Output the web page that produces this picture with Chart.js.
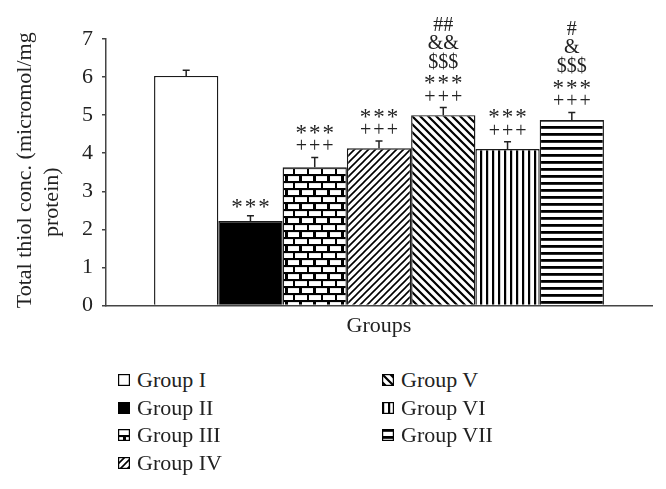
<!DOCTYPE html>
<html>
<head>
<meta charset="utf-8">
<script src="https://cdn.jsdelivr.net/npm/chart.js@4.4.0/dist/chart.umd.min.js"></script>
<style>
  html,body{margin:0;padding:0;background:#fff;}
  #wrap{position:relative;width:666px;height:489px;overflow:hidden;}
  #chart{position:absolute;left:0;top:0;}
  .leg{position:absolute;display:flex;align-items:center;height:24px;font:22px "Liberation Serif",serif;color:#222;white-space:nowrap;}
  .leg canvas{margin-right:7px;display:block;}
</style>
</head>
<body>
<div id="wrap">
  <canvas id="chart" width="666" height="340"></canvas>
  <div id="legend"></div>
</div>
<script>
const FONT = '"Liberation Serif", "DejaVu Serif", serif';

const groups = ['Group I','Group II','Group III','Group IV','Group V','Group VI','Group VII'];
const means  = [6.03, 2.22, 3.63, 4.13, 5.00, 4.11, 4.87];
const errs   = [0.15, 0.14, 0.26, 0.19, 0.20, 0.19, 0.20];
const fillKinds = ['white','black','brick','fwd','back','vert','horiz'];
// significance marks, listed bottom to top
const marks = [
  [],
  ['***'],
  ['+++','***'],
  ['+++','***'],
  ['+++','***','$$$','&&','##'],
  ['+++','***'],
  ['+++','***','$$$','&','#']
];
const yTitleLines = ['Total thiol conc. (micromol/mg', 'protein)'];
const xTitle = 'Groups';

function makeFill(kind){
  if (kind==='white') return '#fff';
  if (kind==='black') return '#000';
  const c = document.createElement('canvas');
  const g = c.getContext('2d');
  if (kind==='brick'){
    c.width=14; c.height=14;
    g.fillStyle='#000'; g.fillRect(0,0,14,14);
    g.fillStyle='#fff';
    g.fillRect(1,1.1,12,4.9);
    g.fillRect(0,8.1,5,4.9);
    g.fillRect(8,8.1,6,4.9);
  } else if (kind==='fwd'){
    c.width=7; c.height=7;
    g.fillStyle='#fff'; g.fillRect(0,0,7,7);
    g.strokeStyle='#000'; g.lineWidth=1.6;
    g.beginPath();
    g.moveTo(-1,8); g.lineTo(8,-1);
    g.moveTo(-2,2); g.lineTo(2,-2);
    g.moveTo(5,9); g.lineTo(9,5);
    g.stroke();
  } else if (kind==='back'){
    c.width=8; c.height=8;
    g.fillStyle='#fff'; g.fillRect(0,0,8,8);
    g.strokeStyle='#000'; g.lineWidth=2.2;
    g.beginPath();
    g.moveTo(-1,-1); g.lineTo(9,9);
    g.moveTo(-2,6); g.lineTo(2,10);
    g.moveTo(6,-2); g.lineTo(10,2);
    g.stroke();
  } else if (kind==='vert'){
    c.width=6; c.height=4;
    g.fillStyle='#fff'; g.fillRect(0,0,6,4);
    g.fillStyle='#000'; g.fillRect(0,0,2.2,4);
  } else if (kind==='horiz'){
    c.width=4; c.height=7.7;
    g.fillStyle='#fff'; g.fillRect(0,0,4,8);
    g.fillStyle='#000'; g.fillRect(0,0,4,2.8);
  }
  return g.createPattern(c,'repeat');
}
const fills = fillKinds.map(makeFill);

// error bars + significance symbols, positioned from the bars and y scale
const markPlugin = {
  id:'marks',
  afterDatasetsDraw(chart){
    const {ctx, scales:{y}} = chart;
    const offs = [12.5, 28, 47, 66, 84];
    ctx.save();
    chart.data.datasets.forEach((ds,i)=>{
      const bar = chart.getDatasetMeta(i).data[0];
      const yTop = y.getPixelForValue(means[i]+errs[i]);
      ctx.strokeStyle='#222'; ctx.lineWidth=1.5;
      ctx.beginPath();
      ctx.moveTo(bar.x, bar.y); ctx.lineTo(bar.x, yTop);
      ctx.moveTo(bar.x-3.5, yTop); ctx.lineTo(bar.x+3.5, yTop);
      ctx.stroke();
      ctx.fillStyle='#222'; ctx.textAlign='center'; ctx.textBaseline='alphabetic';
      marks[i].forEach((s,k)=>{
        const star = s[0]==='*';
        ctx.font = (star ? '23px ' : '20px ')+FONT;
        ctx.letterSpacing = (star || s[0]==='+') ? '2px' : '0px';
        const m = ctx.measureText(s);
        const cy = yTop - offs[k];
        ctx.fillText(s, bar.x + ((star || s[0]==='+') ? 1 : 0), cy + (m.actualBoundingBoxAscent - m.actualBoundingBoxDescent)/2);
      });
    });
    ctx.restore();
  }
};

// two-line rotated y title (second line sits lower than centre, as in the figure)
const yTitlePlugin = {
  id:'yTitle',
  afterDraw(chart){
    const {ctx, chartArea:a} = chart;
    const mid = (a.top+a.bottom)/2;
    const pos = [[25, mid-2], [52, mid+30]];
    ctx.save();
    ctx.font = '22px '+FONT; ctx.fillStyle='#222'; ctx.textAlign='center'; ctx.textBaseline='middle';
    yTitleLines.forEach((t,i)=>{
      ctx.save();
      ctx.translate(pos[i][0], pos[i][1]);
      ctx.rotate(-Math.PI/2);
      ctx.fillText(t,0,0);
      ctx.restore();
    });
    ctx.restore();
  }
};

new Chart(document.getElementById('chart'), {
  type:'bar',
  data:{
    labels:[''],
    datasets: groups.map((name,i)=>({
      label:name, data:[means[i]], backgroundColor:fills[i],
      borderColor:'#1a1a1a', borderWidth:1.4,
      barPercentage:1, categoryPercentage:0.824
    }))
  },
  options:{
    responsive:false, animation:false,
    layout:{ padding:{ top:39, right:14, bottom:0, left:0 } },
    plugins:{ legend:{display:false}, tooltip:{enabled:false} },
    scales:{
      x:{
        grid:{display:false},
        border:{display:true, color:'#444', width:1.5},
        ticks:{display:false},
        title:{display:true, text:xTitle, color:'#222', font:{family:FONT, size:22}, padding:{top:0, bottom:1}},
        afterFit(s){ s.height = 34.5; }
      },
      y:{
        min:0, max:7,
        ticks:{stepSize:1, color:'#222', font:{family:FONT, size:22}, padding:9},
        grid:{drawOnChartArea:false, drawTicks:true, tickLength:4, color:'#444', lineWidth:1.5},
        border:{display:true, color:'#444', width:1.5},
        afterFit(s){ s.width = 106; }
      }
    }
  },
  plugins:[markPlugin, yTitlePlugin]
});

// legend: two columns (I–IV, V–VII)
const legend = document.getElementById('legend');
groups.forEach((name,i)=>{
  const col = i<4 ? 0 : 1, row = i<4 ? i : i-4;
  const item = document.createElement('div');
  item.className='leg';
  item.style.left = (col ? 382 : 118)+'px';
  item.style.top = (368 + row*27.7)+'px';
  const sw = document.createElement('canvas');
  sw.width=12; sw.height=12;
  const g = sw.getContext('2d');
  g.fillStyle = fills[i]; g.fillRect(0,0,12,12);
  g.strokeStyle='#000'; g.lineWidth=1.2; g.strokeRect(0.6,0.6,10.8,10.8);
  item.appendChild(sw);
  item.appendChild(document.createTextNode(name));
  legend.appendChild(item);
});
</script>
</body>
</html>
